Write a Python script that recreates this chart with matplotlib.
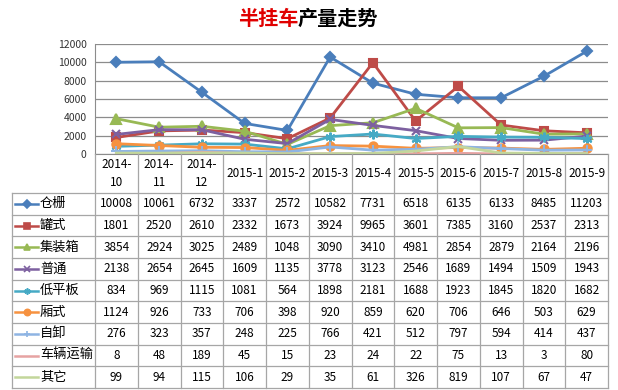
import matplotlib
matplotlib.use("Agg")
import matplotlib.pyplot as plt

plt.rcParams['font.family'] = ['Noto Sans CJK SC', 'DejaVu Sans']

months = ["2014-\n10", "2014-\n11", "2014-\n12", "2015-1", "2015-2", "2015-3",
          "2015-4", "2015-5", "2015-6", "2015-7", "2015-8", "2015-9"]

names = ["仓栅", "罐式", "集装箱", "普通", "低平板", "厢式", "自卸", "车辆运输", "其它"]

cangzha = [10008, 10061, 6732, 3337, 2572, 10582, 7731, 6518, 6135, 6133, 8485, 11203]
guanshi = [1801, 2520, 2610, 2332, 1673, 3924, 9965, 3601, 7385, 3160, 2537, 2313]
jizhuangxiang = [3854, 2924, 3025, 2489, 1048, 3090, 3410, 4981, 2854, 2879, 2164, 2196]
putong = [2138, 2654, 2645, 1609, 1135, 3778, 3123, 2546, 1689, 1494, 1509, 1943]
dipingban = [834, 969, 1115, 1081, 564, 1898, 2181, 1688, 1923, 1845, 1820, 1682]
xiangshi = [1124, 926, 733, 706, 398, 920, 859, 620, 706, 646, 503, 629]
zixie = [276, 323, 357, 248, 225, 766, 421, 512, 797, 594, 414, 437]
cheliang = [8, 48, 189, 45, 15, 23, 24, 22, 75, 13, 3, 80]
qita = [99, 94, 115, 106, 29, 35, 61, 326, 819, 107, 67, 47]

series = [cangzha, guanshi, jizhuangxiang, putong, dipingban, xiangshi, zixie, cheliang, qita]

colors = ["#4A7EBB", "#BE4B48", "#98B954", "#7D60A0", "#46AAC5",
          "#F69240", "#8EB4E3", "#E6A3A2", "#C3D69B"]
markers = ["D", "s", "^", "x", (6, 2, 0), "o", "+", None, None]
msizes = [5, 6, 7, 6, 7, 6, 7, 0, 0]

W, H = 618, 390
fig = plt.figure(figsize=(W / 100, H / 100), dpi=100)
fig.patch.set_facecolor("white")

# plot area lines up with the table columns
left, right, top, bottom = 95, 608, 44, 154
ax = fig.add_axes([left / W, 1 - bottom / H, (right - left) / W, (bottom - top) / H])
x = list(range(len(months)))
for vals, c, m, ms in zip(series, colors, markers, msizes):
    ax.plot(x, vals, color=c, lw=2.0, marker=m, markersize=ms,
            markeredgewidth=1.5, markerfacecolor=c, markeredgecolor=c,
            solid_joinstyle="round")
ax.set_xlim(-0.5, len(months) - 0.5)
ax.set_ylim(0, 12000)
ax.set_yticks(range(0, 12001, 2000))
ax.set_xticks([])
ax.tick_params(axis="y", labelsize=7.5, length=0, pad=6, colors="#333333")
ax.grid(axis="y", color="#8C8C8C", lw=0.9)
ax.set_axisbelow(True)
for s in ["top", "right"]:
    ax.spines[s].set_visible(False)
ax.spines["left"].set_color("#8C8C8C")
ax.spines["bottom"].set_color("#8C8C8C")

# title
fig.text(298 / W, 1 - 18 / H, "半挂车", color="#E00000", fontsize=14.5,
         fontweight="bold", ha="right", va="center")
fig.text(298 / W, 1 - 18 / H, "产量走势", color="black", fontsize=14.5,
         fontweight="bold", ha="left", va="center")

# data table, drawn in pixel coords
tax = fig.add_axes([0, 0, 1, 1])
tax.set_xlim(0, W)
tax.set_ylim(H, 0)
tax.axis("off")

gc = "#A6A6A6"
col_w = (right - left) / len(months)
head_bot = 193
row_h = (388 - head_bot) / len(names)
tab_left = 12
tab_bot = head_bot + row_h * len(names)

for i in range(len(months) + 1):
    xx = left + i * col_w
    tax.plot([xx, xx], [bottom, tab_bot], color=gc, lw=0.9)
tax.plot([tab_left, tab_left], [head_bot, tab_bot], color=gc, lw=0.9)
for j in range(len(names) + 1):
    yy = head_bot + j * row_h
    tax.plot([tab_left, right], [yy, yy], color=gc, lw=0.9)

for i, mlab in enumerate(months):
    tax.text(left + (i + 0.5) * col_w, (bottom + head_bot) / 2, mlab,
             ha="center", va="center", fontsize=8.5, linespacing=1.5)

for j, (nm, vals, c, m) in enumerate(zip(names, series, colors, markers)):
    yc = head_bot + (j + 0.5) * row_h
    tax.plot([15, 38], [yc, yc], color=c, lw=1.8)
    if m is not None:
        tax.plot([26.5], [yc], color=c, marker=m, markersize=4.5,
                 markeredgewidth=1.2, markerfacecolor=c, markeredgecolor=c)
    tax.text(40, yc, nm, ha="left", va="center", fontsize=9.5)
    for i, v in enumerate(vals):
        tax.text(left + (i + 0.5) * col_w, yc, str(v), ha="center",
                 va="center", fontsize=8.5)

fig.savefig("out.png", dpi=100)
